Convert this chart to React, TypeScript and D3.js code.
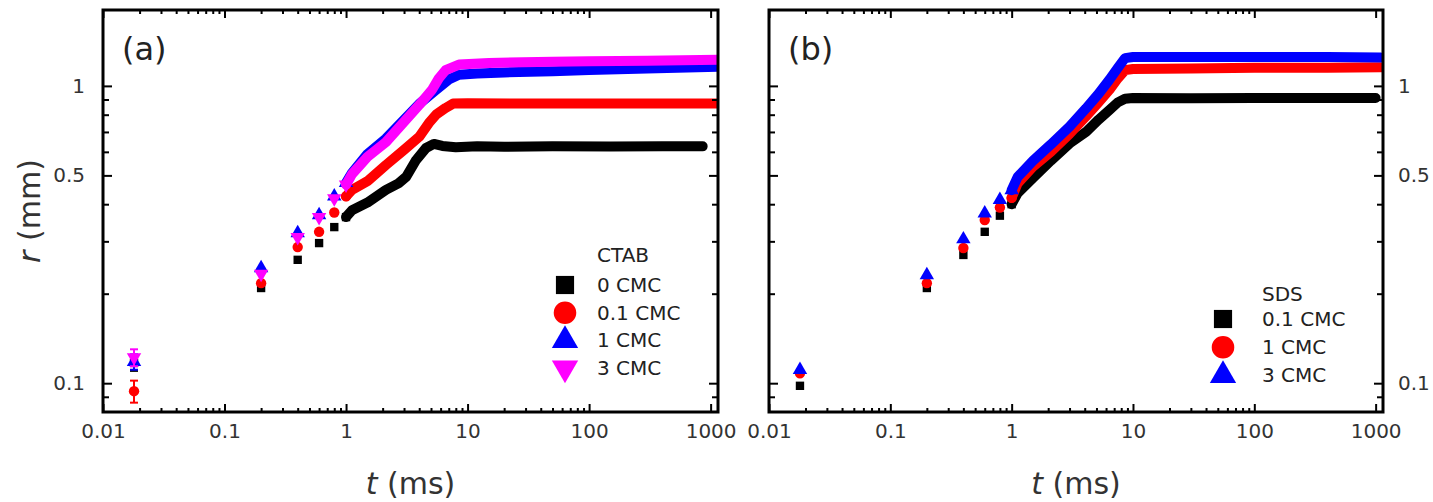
import React, { useRef, useEffect } from "react";
import * as d3 from "d3";

const W = 1433;
const H = 502;
const TOP = 10;
const BOTTOM = 412;

// sparse early frames (ms)
const tEarly = [0.018, 0.2, 0.4, 0.6, 0.8, 1.0];

// (a) CTAB, early frames r (mm)
const rCtab0Early = [0.117, 0.209, 0.26, 0.296, 0.335, 0.362];
const rCtab01Early = [0.094, 0.217, 0.287, 0.323, 0.375, 0.425];
const rCtab1Early = [0.118, 0.244, 0.32, 0.368, 0.425, 0.472];
const rCtab3Early = [0.122, 0.233, 0.31, 0.362, 0.418, 0.465];
// error on the first frame
const errCtabFirst = [0.007, 0.008, 0.007, 0.008];

// (a) CTAB, dense frames [t, r]
const ctab0Band = [
  [1, 0.362], [1.12, 0.382], [1.5, 0.405], [2.13, 0.447], [2.7, 0.47], [3.12, 0.494],
  [3.77, 0.563], [4.55, 0.618], [5.28, 0.638], [6.2, 0.628], [8, 0.622], [12, 0.627],
  [20, 0.624], [50, 0.626], [150, 0.625], [400, 0.626], [860, 0.626],
];
const ctab01Band = [
  [1, 0.425], [1.12, 0.447], [1.5, 0.478], [2.13, 0.542], [3, 0.609], [4, 0.674],
  [4.8, 0.75], [5.5, 0.8], [6.6, 0.843], [7.6, 0.872], [10, 0.874], [30, 0.872],
  [100, 0.873], [400, 0.872], [1150, 0.872],
];
const ctab1Band = [
  [1, 0.472], [1.12, 0.51], [1.5, 0.59], [2.13, 0.665], [3, 0.77], [4, 0.87],
  [5.5, 0.97], [7, 1.05], [8.5, 1.09], [12, 1.1], [20, 1.11], [50, 1.12],
  [100, 1.13], [300, 1.145], [1150, 1.16],
];
const ctab3Band = [
  [1, 0.465], [1.12, 0.505], [1.5, 0.577], [2.13, 0.647], [3, 0.757], [4, 0.863],
  [5.1, 0.97], [5.8, 1.06], [6.6, 1.13], [8.5, 1.18], [15, 1.195], [50, 1.205],
  [100, 1.21], [300, 1.215], [1150, 1.225],
];

// (b) SDS, early frames r (mm)
const rSds01Early = [0.098, 0.209, 0.27, 0.323, 0.366, 0.4];
const rSds1Early = [0.108, 0.217, 0.285, 0.354, 0.39, 0.42];
const rSds3Early = [0.111, 0.231, 0.305, 0.373, 0.414, 0.446];

// (b) SDS, dense frames [t, r]
const sds01Band = [
  [1, 0.4], [1.12, 0.436], [1.5, 0.49], [2.1, 0.56], [3, 0.64], [4.1, 0.7],
  [5.2, 0.77], [6.4, 0.83], [7.5, 0.88], [8.6, 0.905], [10, 0.91], [30, 0.908],
  [100, 0.91], [400, 0.91], [1000, 0.91],
];
const sds1Band = [
  [1, 0.42], [1.12, 0.47], [1.5, 0.535], [2.1, 0.6], [3, 0.69], [4.1, 0.79],
  [5.2, 0.88], [6.4, 0.97], [7.5, 1.06], [8.6, 1.13], [10, 1.14], [30, 1.145],
  [100, 1.15], [400, 1.15], [1100, 1.155],
];
const sds3Band = [
  [1, 0.446], [1.12, 0.494], [1.5, 0.56], [2.1, 0.635], [3, 0.73], [4.1, 0.84],
  [5.2, 0.94], [6.4, 1.05], [7.5, 1.15], [8.6, 1.24], [10, 1.25], [30, 1.25],
  [100, 1.25], [400, 1.25], [1100, 1.245],
];

const xMajor = [0.01, 0.1, 1, 10, 100, 1000];
const xMinor = [0.1, 1, 10, 100].flatMap((d) => d3.range(2, 10).map((k) => (k * d) / 10));
const yLabelled = [0.1, 0.5, 1];
const yMinor = [0.09, 0.2, 0.3, 0.4, 0.6, 0.7, 0.8, 0.9];

const ctabNames = ["0 CMC", "0.1 CMC", "1 CMC", "3 CMC"];
const sdsNames = ["0.1 CMC", "1 CMC", "3 CMC"];

const BLACK = "#000000";
const RED = "#ff0000";
const BLUE = "#0000ff";
const MAGENTA = "#ff00ff";

const panels = [
  {
    tag: "(a)",
    left: 103,
    right: 718,
    yLabelSide: "left",
    legendTitle: "CTAB",
    legend: { markerX: 565, textX: 597, titleY: 255, rowY: 285, dy: 27.7 },
    series: [
      { name: ctabNames[0], color: BLACK, shape: "square", early: rCtab0Early, err: errCtabFirst[0], band: ctab0Band },
      { name: ctabNames[1], color: RED, shape: "circle", early: rCtab01Early, err: errCtabFirst[1], band: ctab01Band },
      { name: ctabNames[2], color: BLUE, shape: "up", early: rCtab1Early, err: errCtabFirst[2], band: ctab1Band },
      { name: ctabNames[3], color: MAGENTA, shape: "down", early: rCtab3Early, err: errCtabFirst[3], band: ctab3Band },
    ],
  },
  {
    tag: "(b)",
    left: 769,
    right: 1383,
    yLabelSide: "right",
    legendTitle: "SDS",
    legend: { markerX: 1223, textX: 1262, titleY: 294, rowY: 319, dy: 28.2 },
    series: [
      { name: sdsNames[0], color: BLACK, shape: "square", early: rSds01Early, err: 0, band: sds01Band },
      { name: sdsNames[1], color: RED, shape: "circle", early: rSds1Early, err: 0, band: sds1Band },
      { name: sdsNames[2], color: BLUE, shape: "up", early: rSds3Early, err: 0, band: sds3Band },
    ],
  },
];

const symbolFor = (shape, big) => {
  const type = shape === "square" ? d3.symbolSquare : shape === "circle" ? d3.symbolCircle : d3.symbolTriangle;
  const size = big
    ? shape === "square" ? 330 : shape === "circle" ? 400 : 300
    : shape === "square" ? 70 : shape === "circle" ? 85 : 90;
  return d3.symbol().type(type).size(size)();
};

function drawPanel(svg, p, idx) {
  const x = d3.scaleLog().domain([0.01, 1150]).range([p.left, p.right]);
  const y = d3.scaleLog().domain([0.08, 1.8]).range([BOTTOM, TOP]);
  const g = svg.append("g");

  const clipId = `clip-${idx}`;
  g.append("clipPath")
    .attr("id", clipId)
    .append("rect")
    .attr("x", p.left)
    .attr("y", TOP)
    .attr("width", p.right - p.left)
    .attr("height", BOTTOM - TOP);

  const data = g.append("g").attr("clip-path", `url(#${clipId})`);
  const line = d3
    .line()
    .x((d) => x(d[0]))
    .y((d) => y(d[1]));

  p.series.forEach((s) => {
    data
      .append("path")
      .attr("d", line(s.band))
      .attr("fill", "none")
      .attr("stroke", s.color)
      .attr("stroke-width", 10)
      .attr("stroke-linejoin", "round")
      .attr("stroke-linecap", "round");

    if (s.err > 0) {
      const t0 = tEarly[0];
      const r0 = s.early[0];
      const cx = x(t0);
      const eg = data.append("g").attr("stroke", s.color).attr("stroke-width", 2);
      eg.append("line").attr("x1", cx).attr("x2", cx).attr("y1", y(r0 - s.err)).attr("y2", y(r0 + s.err));
      [r0 - s.err, r0 + s.err].forEach((v) =>
        eg.append("line").attr("x1", cx - 4).attr("x2", cx + 4).attr("y1", y(v)).attr("y2", y(v))
      );
    }

    data
      .selectAll(null)
      .data(tEarly.map((t, i) => [t, s.early[i]]))
      .join("path")
      .attr("d", symbolFor(s.shape, false))
      .attr("fill", s.color)
      .attr("transform", (d) => `translate(${x(d[0])},${y(d[1])})${s.shape === "down" ? " rotate(180)" : ""}`);
  });

  // ticks, all pointing inward
  const styleAxis = (sel, labelled) => {
    sel.select(".domain").remove();
    sel.selectAll("line").attr("stroke", "#000").attr("stroke-width", 2);
    sel
      .selectAll("text")
      .attr("fill", labelled ? "#333" : "none")
      .attr("font-size", 20)
      .attr("font-family", "'DejaVu Sans', Verdana, sans-serif");
  };

  g.append("g")
    .attr("transform", `translate(0,${BOTTOM})`)
    .call(d3.axisBottom(x).tickValues(xMajor).tickSize(-8).tickPadding(12).tickFormat((d) => String(d)))
    .call((s) => styleAxis(s, true));
  g.append("g")
    .attr("transform", `translate(0,${BOTTOM})`)
    .call(d3.axisBottom(x).tickValues(xMinor).tickSize(-4).tickFormat(() => ""))
    .call((s) => styleAxis(s, false));
  g.append("g")
    .attr("transform", `translate(0,${TOP})`)
    .call(d3.axisTop(x).tickValues(xMajor).tickSize(-8).tickFormat(() => ""))
    .call((s) => styleAxis(s, false));
  g.append("g")
    .attr("transform", `translate(0,${TOP})`)
    .call(d3.axisTop(x).tickValues(xMinor).tickSize(-4).tickFormat(() => ""))
    .call((s) => styleAxis(s, false));

  const leftLab = p.yLabelSide === "left";
  g.append("g")
    .attr("transform", `translate(${p.left},0)`)
    .call(d3.axisLeft(y).tickValues(yLabelled).tickSize(-9).tickPadding(18).tickFormat((d) => (leftLab ? String(d) : "")))
    .call((s) => styleAxis(s, leftLab));
  g.append("g")
    .attr("transform", `translate(${p.left},0)`)
    .call(d3.axisLeft(y).tickValues(yMinor).tickSize(-6).tickFormat(() => ""))
    .call((s) => styleAxis(s, false));
  g.append("g")
    .attr("transform", `translate(${p.right},0)`)
    .call(d3.axisRight(y).tickValues(yLabelled).tickSize(-9).tickPadding(15).tickFormat((d) => (leftLab ? "" : String(d))))
    .call((s) => styleAxis(s, !leftLab));
  g.append("g")
    .attr("transform", `translate(${p.right},0)`)
    .call(d3.axisRight(y).tickValues(yMinor).tickSize(-6).tickFormat(() => ""))
    .call((s) => styleAxis(s, false));

  // frame
  g.append("rect")
    .attr("x", p.left)
    .attr("y", TOP)
    .attr("width", p.right - p.left)
    .attr("height", BOTTOM - TOP)
    .attr("fill", "none")
    .attr("stroke", "#000")
    .attr("stroke-width", 3);

  g.append("text")
    .attr("x", p.left + 19)
    .attr("y", 60)
    .attr("font-size", 32)
    .attr("fill", "#222")
    .text(p.tag);

  // x title
  const xt = g
    .append("text")
    .attr("x", (p.left + p.right) / 2)
    .attr("y", 494)
    .attr("text-anchor", "middle")
    .attr("font-size", 30)
    .attr("fill", "#333");
  xt.append("tspan").attr("font-style", "italic").text("t");
  xt.append("tspan").text(" (ms)");

  // legend
  const L = p.legend;
  g.append("text")
    .attr("x", L.textX)
    .attr("y", L.titleY)
    .attr("dy", "0.35em")
    .attr("font-size", 20)
    .attr("fill", "#222")
    .text(p.legendTitle);
  p.series.forEach((s, i) => {
    const ry = L.rowY + i * L.dy;
    g.append("path")
      .attr("d", symbolFor(s.shape, true))
      .attr("fill", s.color)
      .attr("transform", `translate(${L.markerX},${ry})${s.shape === "down" ? " rotate(180)" : ""}`);
    g.append("text")
      .attr("x", L.textX)
      .attr("y", ry)
      .attr("dy", "0.35em")
      .attr("font-size", 20)
      .attr("fill", "#222")
      .text(s.name);
  });
}

export default function App() {
  const svgRef = useRef(null);

  useEffect(() => {
    const svg = d3.select(svgRef.current);
    svg.selectAll("*").remove();
    svg.append("rect").attr("width", W).attr("height", H).attr("fill", "#fff");

    panels.forEach((p, i) => drawPanel(svg, p, i));

    // y title
    const yt = svg
      .append("text")
      .attr("transform", `translate(40,${(TOP + BOTTOM) / 2}) rotate(-90)`)
      .attr("text-anchor", "middle")
      .attr("font-size", 30)
      .attr("fill", "#333");
    yt.append("tspan").attr("font-style", "italic").text("r");
    yt.append("tspan").text(" (mm)");
  }, []);

  return (
    <svg
      ref={svgRef}
      width={W}
      height={H}
      style={{ position: "absolute", left: 0, top: 0, fontFamily: "'DejaVu Sans', Verdana, sans-serif" }}
    />
  );
}
